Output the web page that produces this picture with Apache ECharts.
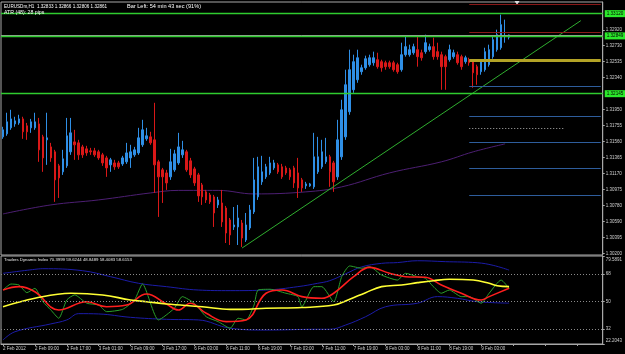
<!DOCTYPE html>
<html><head><meta charset="utf-8">
<script src="https://cdn.jsdelivr.net/npm/echarts@6/dist/echarts.min.js"></script>
<style>html,body{margin:0;padding:0;background:#000}#c{width:625px;height:354px}</style>
</head><body><div id="c"></div>
<script>
// ---------- DATA ----------
const timeLabels = ['2 Feb 2012','2 Feb 09:00','2 Feb 17:00','3 Feb 01:00','3 Feb 09:00','3 Feb 17:00',
  '6 Feb 03:00','6 Feb 11:00','6 Feb 19:00','7 Feb 03:00','7 Feb 11:00','7 Feb 19:00',
  '8 Feb 03:00','8 Feb 11:00','8 Feb 19:00','9 Feb 03:00'];
const slotCount = 151; // H1 slots incl. empty space on the right
// [open, close, low, high]
const candles = [
[1.31619,1.31705,1.31595,1.31742],[1.31656,1.31802,1.31632,1.31913],[1.31729,1.31838,1.31705,1.31949],[1.31777,1.31814,1.31742,1.31864],
[1.31789,1.31838,1.31766,1.31888],[1.31838,1.31681,1.31595,1.31864],[1.31754,1.31681,1.31583,1.31789],[1.31729,1.31802,1.31668,1.31838],
[1.31729,1.31802,1.31705,1.31913],[1.31777,1.31461,1.31315,1.31850],[1.31619,1.31363,1.31193,1.31644],[1.31583,1.31607,1.31278,1.31913],
[1.31497,1.31363,1.31315,1.31546],[1.31437,1.31095,1.30827,1.31461],[1.31266,1.31119,1.30875,1.31290],[1.31193,1.31351,1.31156,1.31461],
[1.31266,1.31632,1.31241,1.31850],[1.31437,1.31668,1.31400,1.31850],[1.31558,1.31522,1.31339,1.31705],[1.31546,1.31400,1.31339,1.31583],
[1.31497,1.31400,1.31363,1.31522],[1.31473,1.31424,1.31388,1.31510],[1.31449,1.31437,1.31400,1.31485],[1.31449,1.31400,1.31376,1.31485],
[1.31437,1.31363,1.31339,1.31461],[1.31400,1.31302,1.31266,1.31424],[1.31363,1.31241,1.31132,1.31388],[1.31278,1.31339,1.31193,1.31363],
[1.31302,1.31254,1.31217,1.31339],[1.31302,1.31254,1.31229,1.31327],[1.31290,1.31363,1.31266,1.31388],[1.31315,1.31424,1.31290,1.31546],
[1.31363,1.31437,1.31241,1.31522],[1.31400,1.31461,1.31376,1.31497],[1.31424,1.31607,1.31400,1.31729],[1.31522,1.31705,1.31497,1.31827],
[1.31595,1.31632,1.31571,1.31729],[1.31619,1.31546,1.31522,1.31681],[1.31583,1.31278,1.30936,1.32034],[1.31315,1.31132,1.30644,1.31339],
[1.31217,1.31132,1.30814,1.31241],[1.31180,1.31058,1.30973,1.31217],[1.31132,1.31315,1.31095,1.31473],[1.31217,1.31412,1.31193,1.31461],
[1.31302,1.31497,1.31278,1.31668],[1.31400,1.31461,1.31363,1.31571],[1.31437,1.31217,1.31193,1.31461],[1.31327,1.31156,1.31119,1.31363],
[1.31229,1.31058,1.31022,1.31254],[1.31156,1.30900,1.30827,1.31180],[1.31034,1.30888,1.30790,1.31058],[1.30949,1.30851,1.30814,1.30973],
[1.30912,1.30827,1.30802,1.30936],[1.30888,1.30692,1.30522,1.30912],[1.30790,1.30851,1.30753,1.30888],[1.30814,1.30583,1.30522,1.30973],
[1.30753,1.30448,1.30326,1.30778],[1.30607,1.30424,1.30302,1.30631],[1.30522,1.30546,1.30485,1.30765],[1.30522,1.30631,1.30302,1.30790],
[1.30570,1.30387,1.30278,1.30607],[1.30363,1.30546,1.30339,1.30692],[1.30509,1.30729,1.30485,1.30790],[1.30705,1.31095,1.30680,1.31363],
[1.30888,1.31254,1.30851,1.31376],[1.31071,1.31193,1.31034,1.31388],[1.31132,1.31254,1.31107,1.31290],[1.31180,1.31302,1.31156,1.31376],
[1.31241,1.31302,1.31217,1.31339],[1.31278,1.31193,1.31168,1.31302],[1.31254,1.31132,1.31107,1.31290],[1.31241,1.31180,1.31156,1.31266],
[1.31217,1.31132,1.31095,1.31241],[1.31241,1.31058,1.30997,1.31266],[1.31180,1.30997,1.30875,1.31363],[1.31095,1.30997,1.30949,1.31119],
[1.31022,1.31046,1.30985,1.31071],[1.31022,1.31046,1.31010,1.31058],[1.31010,1.31376,1.30985,1.31668],[1.31193,1.31376,1.31168,1.31619],
[1.31254,1.31437,1.31229,1.31583],[1.31315,1.31376,1.31290,1.31607],[1.31376,1.31193,1.31010,1.31400],[1.31302,1.31071,1.30949,1.31327],
[1.31132,1.31583,1.31095,1.31827],[1.31376,1.31949,1.31339,1.32071],[1.31619,1.32254,1.31583,1.32437],[1.31925,1.32437,1.31888,1.32681],
[1.32193,1.32535,1.32156,1.32620],[1.32315,1.32583,1.32278,1.32681],[1.32413,1.32461,1.32376,1.32498],[1.32461,1.32571,1.32437,1.32608],
[1.32498,1.32583,1.32474,1.32620],[1.32522,1.32583,1.32486,1.32657],[1.32559,1.32474,1.32449,1.32644],[1.32535,1.32461,1.32413,1.32559],
[1.32522,1.32474,1.32437,1.32547],[1.32522,1.32474,1.32449,1.32547],[1.32522,1.32437,1.32413,1.32547],[1.32498,1.32413,1.32388,1.32522],
[1.32437,1.32620,1.32413,1.32766],[1.32620,1.32718,1.32596,1.32840],[1.32620,1.32681,1.32596,1.32742],[1.32644,1.32718,1.32620,1.32754],
[1.32681,1.32596,1.32474,1.32840],[1.32644,1.32583,1.32547,1.32681],[1.32657,1.32766,1.32632,1.32864],[1.32681,1.32718,1.32657,1.32754],
[1.32718,1.32596,1.32559,1.32827],[1.32657,1.32596,1.32559,1.32766],[1.32620,1.32474,1.32193,1.32657],[1.32596,1.32474,1.32193,1.32620],
[1.32559,1.32681,1.32535,1.32742],[1.32596,1.32644,1.32571,1.32681],[1.32620,1.32522,1.32498,1.32657],[1.32596,1.32474,1.32437,1.32620],
[1.32535,1.32583,1.32510,1.32608],[1.32559,1.32522,1.32486,1.32583],[1.32535,1.32400,1.32217,1.32559],[1.32474,1.32376,1.32254,1.32498],
[1.32413,1.32535,1.32376,1.32559],[1.32437,1.32657,1.32413,1.32705],[1.32498,1.32681,1.32474,1.32742],[1.32596,1.32803,1.32571,1.32840],
[1.32681,1.32864,1.32657,1.32925],[1.32705,1.32986,1.32681,1.33108],[1.32840,1.32852,1.32766,1.33047],[1.32833,1.32861,1.32806,1.32866]
];
const maPoints = [[0,1.30680],[12,1.30790],[24,1.30851],[37,1.30936],[44,1.30967],[54,1.30967],[63,1.30924],[76,1.30949],[85,1.31010],[97,1.31180],[110,1.31315],[118,1.31437],[126,1.31534]];
const trendPoints = [[60,1.30265],[145,1.33035]];
const priceTicks = [1.30200,1.30395,1.30590,1.30780,1.30975,1.31170,1.31365,1.31560,1.31755,1.31950,1.32340,1.32535,1.32730,1.32920];
const greenLevels = [1.33120,1.32849,1.32145];
const bidPrice = 1.32861;
const redLevels = [1.33230,1.32897];
const yellowLevels = [1.32547];
const blueLevels = [1.32230,1.31876,1.31559,1.31242,1.30912];
const dottedLevels = [1.31730];
const levelStartBar = 117, levelEndBar = 150, dottedEndBar = 141;
const markerPoint = [[129,1.3325]];

const tdiTicks = [22.2043,32,50,68,79.5891];
const tdiLevels = [32,50,68];
const tdiUpper = [[0,68.3],[8,70.9],[10,71.3],[20,70.0],[27,66.1],[34,61.8],[41,59.6],[49,57.4],[57,57.0],[66,57.4],[74,59.6],[79,61.8],[82,63.5],[86,68.0],[90,72.5],[95,74.8],[99,75.3],[104,76.5],[111,75.9],[119,75.2],[123,73.5],[127,70.4]];
const tdiLower = [[0,24.8],[3,30.2],[12,35.3],[16,37.9],[19,42.0],[24,41.8],[32,39.6],[41,38.3],[49,37.9],[57,32.5],[66,31.3],[79,31.8],[82,31.8],[86,34.6],[91,40.0],[96,46.5],[104,48.8],[109,53.1],[114,52.0],[119,49.8],[127,48.85]];
const tdiBase = [[0,46.5],[8,52.0],[17,55.3],[25,54.2],[32,50.9],[36,49.8],[41,48.3],[50,46.5],[57,44.8],[60,44.8],[66,45.5],[75,46.0],[83,47.6],[87,51.4],[91,55.7],[95,59.6],[100,60.7],[104,62.2],[108,63.5],[112,64.4],[118,63.9],[122,61.8],[124,60.2],[127,59.62]];
const tdiSignal = [[0,57.4],[4,59.6],[8,56.3],[14,44.4],[21,49.8],[26,46.5],[31,47.6],[36,54.8],[41,48.3],[44,44.4],[47,48.8],[51,42.2],[56,36.8],[61,37.9],[66,55.3],[70,57.4],[75,53.1],[80,52.0],[83,55.3],[88,66.1],[92,72.2],[97,68.3],[101,66.1],[106,65.7],[110,60.7],[115,55.3],[120,50.9],[122,53.1],[127,58.62]];
const tdiRsi = [[0,57.4],[2,61.3],[4,60.7],[6,55.7],[8,58.5],[10,49.8],[12,44.4],[14,39.0],[16,50.9],[18,54.2],[21,48.8],[24,47.6],[26,43.3],[30,44.8],[33,50.9],[35,61.3],[39,37.9],[43,45.5],[45,53.1],[48,48.8],[51,40.0],[54,36.8],[57,32.5],[59,39.0],[61,37.9],[63,47.6],[64,57.4],[67,57.9],[71,55.3],[74,53.1],[75,46.5],[78,59.6],[80,59.6],[83,49.8],[85,66.1],[87,73.1],[90,71.6],[92,72.6],[95,67.2],[99,63.9],[101,68.3],[104,66.1],[106,65.1],[108,59.6],[110,55.3],[112,57.4],[115,53.1],[117,53.1],[120,48.8],[122,55.3],[125,63.9],[127,58.41]];

const headerText = 'EURUSDm,H1  1.32833 1.32866 1.32806 1.32861';
const barLeftText = 'Bar Left: 54 min 43 sec (91%)';
const atrText = 'ATR (48): 28 pips';
const tdiTitle = 'Traders Dynamic Index 70.3999 59.6244 48.8489 58.4083 58.6153';

// ---------- CHART ----------
const FONT = 'Liberation Sans';
const categories = Array.from({length: slotCount}, (_, i) => String(i));
const axisGray = '#a8a8a8';
const lblStyle = {color: '#d0d0d0', fontSize: 4.5, fontFamily: FONT};

const fullLine = (v, color, width, withLabel) => ({
  yAxis: v,
  lineStyle: {color: color, width: width, type: 'solid'},
  label: withLabel ? {show: true, position: 'end', distance: 2, formatter: v.toFixed(5),
    backgroundColor: '#2bea2b', color: '#000', fontSize: 4.6, fontFamily: FONT, padding: [1, 2, 1, 2]} : {show: false}
});
const partLine = (v, color, width, type, endBar) => [
  {coord: [levelStartBar, v], lineStyle: {color: color, width: width, type: type}, label: {show: false}},
  {coord: [endBar, v]}
];

const markData = [];
markData.push(fullLine(bidPrice, '#a0a0a0', 1, false));
greenLevels.forEach(v => markData.push(fullLine(v, '#2fcc2f', 1.3, true)));
redLevels.forEach(v => markData.push(partLine(v, '#8a1818', 1, 'solid', levelEndBar)));
yellowLevels.forEach(v => markData.push(partLine(v, '#b3a326', 3, 'solid', levelEndBar)));
blueLevels.forEach(v => markData.push(partLine(v, '#2e5d9c', 1, 'solid', levelEndBar)));
dottedLevels.forEach(v => markData.push(partLine(v, '#b0b0b0', 1, [1, 2], dottedEndBar)));

const chart = echarts.init(document.getElementById('c'), null, {renderer: 'canvas'});
chart.setOption({
  backgroundColor: '#000',
  animation: false,
  title: [
    {text: headerText, left: 4, top: 4, padding: 0, textStyle: {color: '#fff', fontSize: 4.6, fontWeight: 'normal', fontFamily: FONT}},
    {text: barLeftText, left: 127, top: 3, padding: 0, textStyle: {color: '#fff', fontSize: 5.6, fontWeight: 'normal', fontFamily: FONT}},
    {text: atrText, left: 4, top: 10, padding: 0, textStyle: {color: '#fff', fontSize: 5.2, fontWeight: 'normal', fontFamily: FONT}},
    {text: tdiTitle, left: 4, top: 258, padding: 0, textStyle: {color: '#e8e8e8', fontSize: 4.3, fontWeight: 'normal', fontFamily: FONT}}
  ],
  grid: [
    {left: 1, right: 22, top: 2, height: 253, show: true, borderColor: axisGray, borderWidth: 1, backgroundColor: '#000'},
    {left: 1, right: 22, top: 256, height: 88, show: true, borderColor: axisGray, borderWidth: 1, backgroundColor: '#000'}
  ],
  xAxis: [
    {type: 'category', gridIndex: 0, data: categories, boundaryGap: true,
     axisLine: {show: false}, axisTick: {show: false}, axisLabel: {show: false}, splitLine: {show: false}},
    {type: 'category', gridIndex: 1, data: categories, boundaryGap: true,
     axisLine: {show: true, lineStyle: {color: axisGray}},
     axisTick: {show: true, interval: 7, alignWithLabel: true, length: 2, lineStyle: {color: axisGray}},
     axisLabel: Object.assign({interval: 7, align: 'left', margin: 2,
       formatter: (v, i) => timeLabels[i / 8] || ''}, lblStyle),
     splitLine: {show: false}}
  ],
  yAxis: [
    {type: 'value', gridIndex: 0, position: 'right', min: 1.3018, max: 1.33262, scale: true,
     axisLine: {show: true, lineStyle: {color: axisGray}},
     axisTick: {show: true, customValues: priceTicks, length: 2, lineStyle: {color: axisGray}},
     axisLabel: Object.assign({customValues: priceTicks, margin: 3, formatter: v => v.toFixed(5)}, lblStyle),
     splitLine: {show: false}},
    {type: 'value', gridIndex: 1, position: 'right', min: 22.2043, max: 79.5891,
     axisLine: {show: true, lineStyle: {color: axisGray}},
     axisTick: {show: true, customValues: tdiTicks, length: 2, lineStyle: {color: axisGray}},
     axisLabel: Object.assign({customValues: tdiTicks, margin: 3,
       formatter: v => v > 79 ? '{t|' + v.toFixed(4) + '}' : (v < 23 ? '{b|' + v.toFixed(4) + '}' : String(v)),
       rich: {
         t: {color: '#d0d0d0', fontSize: 4.5, fontFamily: FONT, padding: [7, 0, 0, 0]},
         b: {color: '#d0d0d0', fontSize: 4.5, fontFamily: FONT, padding: [0, 0, 6, 0]}
       }}, lblStyle),
     splitLine: {show: false}}
  ],
  series: [
    {type: 'line', name: 'MA', xAxisIndex: 0, yAxisIndex: 0, data: maPoints, smooth: 0.4,
     showSymbol: false, lineStyle: {color: '#4d1f73', width: 1}, silent: true, z: 1},
    {type: 'candlestick', xAxisIndex: 0, yAxisIndex: 0, data: candles, barWidth: 2,
     itemStyle: {color: '#2f8fe6', color0: '#d91818', borderColor: '#2f8fe6', borderColor0: '#d91818', borderWidth: 1},
     markLine: {silent: true, precision: 6, symbol: ['none', 'none'], animation: false, data: markData}, z: 3},
    {type: 'line', name: 'trend', xAxisIndex: 0, yAxisIndex: 0, data: trendPoints,
     showSymbol: false, lineStyle: {color: '#2fae2f', width: 1}, silent: true, z: 4},
    {type: 'scatter', xAxisIndex: 0, yAxisIndex: 0, data: markerPoint, symbol: 'triangle', symbolRotate: 180,
     symbolSize: [5, 4], itemStyle: {color: '#ffffff'}, silent: true},
    {type: 'line', xAxisIndex: 1, yAxisIndex: 1, data: tdiUpper, smooth: 0.4, showSymbol: false,
     lineStyle: {color: '#1c1ca8', width: 1},
     markLine: {silent: true, precision: 4, symbol: ['none', 'none'], label: {show: false},
       lineStyle: {color: '#8a8a8a', width: 1, type: [1, 2]}, data: tdiLevels.map(v => ({yAxis: v}))}},
    {type: 'line', xAxisIndex: 1, yAxisIndex: 1, data: tdiLower, smooth: 0.4, showSymbol: false,
     lineStyle: {color: '#1c1ca8', width: 1}},
    {type: 'line', xAxisIndex: 1, yAxisIndex: 1, data: tdiRsi, smooth: 0.2, showSymbol: false,
     lineStyle: {color: '#2aa02a', width: 1}},
    {type: 'line', xAxisIndex: 1, yAxisIndex: 1, data: tdiSignal, smooth: 0.4, showSymbol: false,
     lineStyle: {color: '#ff1e1e', width: 1.6}},
    {type: 'line', xAxisIndex: 1, yAxisIndex: 1, data: tdiBase, smooth: 0.4, showSymbol: false,
     lineStyle: {color: '#ffff33', width: 1.6}}
  ]
});
</script></body></html>
